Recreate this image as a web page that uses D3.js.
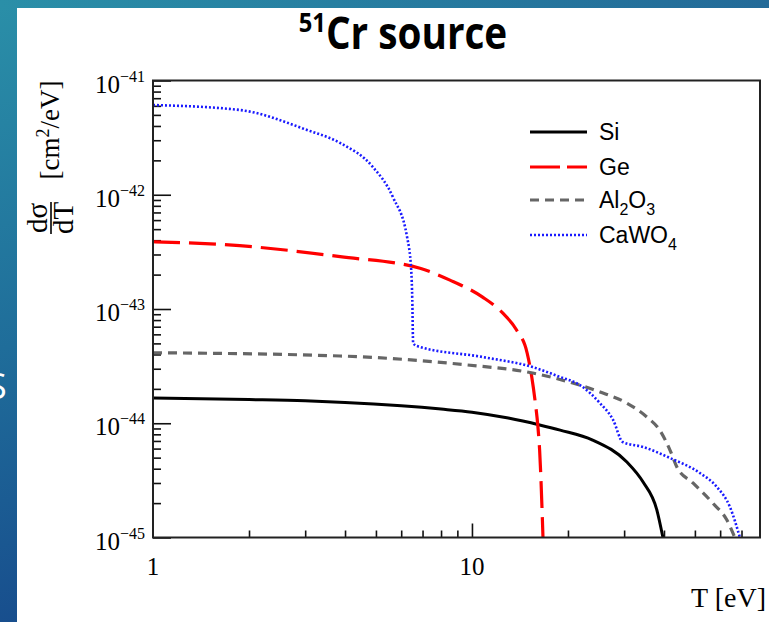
<!DOCTYPE html>
<html>
<head>
<meta charset="utf-8">
<script src="https://cdn.jsdelivr.net/npm/d3@7"></script>
<style>
  body { margin: 0; background: #fff; }
  svg { display: block; }
</style>
</head>
<body>
<div id="chart"></div>
<script>
// ---- data (T in eV, dsigma/dT in cm^2/eV) ----
var siT  = [1, 2, 3, 4, 6, 8, 10, 13, 16.3, 18.9, 23.9, 30.6, 34.4, 38.0, 39.7];
var siXS = [1.66e-44, 1.61e-44, 1.57e-44, 1.52e-44, 1.42e-44, 1.33e-44, 1.25e-44, 1.11e-44, 9.66e-45,
            8.7e-45, 7.13e-45, 4.58e-45, 3.06e-45, 1.74e-45, 1.0e-45];

var geT  = [1, 1.87, 3.86, 6.87, 8.53, 10.8, 12.5, 13.8, 14.9, 15.4, 15.76, 16.1, 16.3, 16.7];
var geXS = [3.88e-43, 3.58e-43, 2.87e-43, 2.27e-43, 1.79e-43, 1.27e-43, 9.2e-44, 6.55e-44, 4.1e-44,
            2.54e-44, 1.6e-44, 9.3e-45, 5.8e-45, 1.0e-45];

var alT  = [1, 3.86, 7.53, 9.65, 15.5, 20.7, 25.2, 30.6, 35.4, 38.8, 41.8, 43.9, 49.3, 56.9, 63.0, 66.7];
var alXS = [4.14e-44, 3.88e-44, 3.46e-44, 3.24e-44, 2.75e-44, 2.25e-44, 1.88e-44, 1.50e-44, 1.13e-44,
            8.7e-45, 5.8e-45, 4.14e-45, 3.0e-45, 2.0e-45, 1.42e-45, 1.0e-45];

var cwT  = [1, 1.87, 3.04, 3.86, 4.89, 5.65, 6.26, 6.45, 6.5, 6.54, 6.72, 10.8, 15.5, 18.9, 21.8, 25.2,
            27.7, 29.7, 34.4, 41.8, 51.8, 58.6, 64.4, 69.2];
var cwXS = [6.1e-42, 5.52e-42, 3.69e-42, 2.84e-42, 1.75e-42, 9.55e-43, 4.27e-43, 2.19e-43, 1.2e-43, 5.04e-44,
            4.74e-44, 3.8e-44, 3.1e-44, 2.54e-44, 2.16e-44, 1.5e-44, 1.07e-44, 6.85e-45, 6.2e-45, 4.96e-45,
            3.67e-45, 2.77e-45, 1.85e-45, 1.0e-45];

var yTickExps = [-41, -42, -43, -44, -45];
var xTickLabels = [1, 10];

var svgWidth = 769;
var svgHeight = 622;

var margin = { top: 80.5, right: 9, bottom: 84.5, left: 153 };
var width = svgWidth - margin.left - margin.right;
var height = svgHeight - margin.top - margin.bottom;

var svg = d3.select("#chart")
  .append("svg")
  .attr("width", svgWidth)
  .attr("height", svgHeight);

// slide background behind the white panel
var defs = svg.append("defs");
var grad = defs.append("linearGradient")
  .attr("id", "slideBg")
  .attr("x1", "0").attr("y1", "0").attr("x2", "0.35").attr("y2", "1");
grad.append("stop").attr("offset", "0%").attr("stop-color", "#2a8fa8");
grad.append("stop").attr("offset", "50%").attr("stop-color", "#1f6d9a");
grad.append("stop").attr("offset", "100%").attr("stop-color", "#16468a");

var gradTop = defs.append("linearGradient")
  .attr("id", "slideTop")
  .attr("x1", "0").attr("y1", "0").attr("x2", "1").attr("y2", "0");
gradTop.append("stop").attr("offset", "0%").attr("stop-color", "#2a8fa8");
gradTop.append("stop").attr("offset", "100%").attr("stop-color", "#236a98");

svg.append("rect").attr("width", svgWidth).attr("height", svgHeight).attr("fill", "url(#slideBg)");
svg.append("rect").attr("width", svgWidth).attr("height", 10).attr("fill", "url(#slideTop)");

// bit of slide text peeking out on the left
svg.append("text")
  .attr("x", -13).attr("y", 399)
  .attr("font-family", "Open Sans, sans-serif")
  .attr("font-size", 36)
  .attr("fill", "#ffffff")
  .text("S");

svg.append("rect")
  .attr("x", 17).attr("y", 8)
  .attr("width", svgWidth - 17).attr("height", svgHeight - 8)
  .attr("fill", "#ffffff");

// title (condensed bold look)
var title = svg.append("text")
  .attr("transform", "translate(403, 49) scale(0.88, 1)")
  .attr("text-anchor", "middle")
  .attr("font-family", "Open Sans, sans-serif")
  .attr("font-weight", "bold")
  .attr("font-size", 44)
  .attr("fill", "#000");
title.append("tspan").attr("font-size", 27).attr("dy", -17).text("51");
title.append("tspan").attr("dy", 17).text("Cr source");

var chartGroup = svg.append("g")
  .attr("transform", `translate(${margin.left}, ${margin.top})`);

defs.append("clipPath").attr("id", "plotClip")
  .append("rect").attr("width", width).attr("height", height);

// scales
var xLogScale = d3.scaleLog().domain([1, 80]).range([0, width]);
var yLogScale = d3.scaleLog().domain([1e-45, 1e-41]).range([height, 0]);

// minor / major tick values
var xMinor = [];
[1, 10].forEach(function(dec) {
  for (var k = 2; k <= 9; k++) { if (dec * k < 80) xMinor.push(dec * k); }
});
var yMinor = [];
yTickExps.forEach(function(e) {
  if (e === -41) return;
  for (var k = 2; k <= 9; k++) yMinor.push(k * Math.pow(10, e));
});
var yMajor = yTickExps.map(function(e) { return Math.pow(10, e); });

function styleAxis(g) {
  g.select(".domain").remove();
  g.selectAll(".tick text").remove();
  g.selectAll(".tick line").attr("stroke", "#111").attr("stroke-width", 1.6);
}

chartGroup.append("g")
  .attr("transform", `translate(0, ${height})`)
  .call(d3.axisBottom(xLogScale).tickValues([10]).tickSize(-14))
  .call(styleAxis);
chartGroup.append("g")
  .attr("transform", `translate(0, ${height})`)
  .call(d3.axisBottom(xLogScale).tickValues(xMinor).tickSize(-7))
  .call(styleAxis);
chartGroup.append("g")
  .call(d3.axisLeft(yLogScale).tickValues(yMajor).tickSize(-18))
  .call(styleAxis);
chartGroup.append("g")
  .call(d3.axisLeft(yLogScale).tickValues(yMinor).tickSize(-8))
  .call(styleAxis);

// tick labels
var serif = "Liberation Serif, Times New Roman, serif";
yTickExps.forEach(function(e) {
  var t = chartGroup.append("text")
    .attr("x", -8)
    .attr("y", yLogScale(Math.pow(10, e)) + 12)
    .attr("text-anchor", "end")
    .attr("font-family", serif)
    .attr("font-size", 25)
    .attr("fill", "#000");
  t.append("tspan").text("10");
  t.append("tspan").attr("font-size", 16).attr("dy", -11).text("\u2212" + (-e));
});
xTickLabels.forEach(function(v) {
  chartGroup.append("text")
    .attr("x", xLogScale(v))
    .attr("y", height + 37)
    .attr("text-anchor", "middle")
    .attr("font-family", serif)
    .attr("font-size", 25)
    .attr("fill", "#000")
    .text(v);
});

// axis titles
svg.append("text")
  .attr("x", 766).attr("y", 607)
  .attr("text-anchor", "end")
  .attr("font-family", serif)
  .attr("font-size", 28)
  .attr("fill", "#000")
  .text("T [eV]");

var yLab = svg.append("g").attr("transform", "translate(50, 130) rotate(-90)");
var yUnit = yLab.append("text")
  .attr("x", 0).attr("y", 9)
  .attr("text-anchor", "middle")
  .attr("font-family", serif)
  .attr("font-size", 27)
  .attr("fill", "#000");
yUnit.append("tspan").text("[cm");
yUnit.append("tspan").attr("font-size", 18).attr("dy", -10).text("2");
yUnit.append("tspan").attr("dy", 10).text("/eV]");

var frac = svg.append("g").attr("transform", "translate(51, 218) rotate(-90)");
frac.append("text").attr("x", 0).attr("y", -4)
  .attr("text-anchor", "middle").attr("font-family", serif).attr("font-size", 29)
  .text("d\u03c3");
frac.append("line").attr("x1", -16).attr("x2", 16).attr("y1", 0).attr("y2", 0)
  .attr("stroke", "#000").attr("stroke-width", 1.6);
frac.append("text").attr("x", 0).attr("y", 22)
  .attr("text-anchor", "middle").attr("font-family", serif).attr("font-size", 29)
  .text("dT");

// curves
var series = [
  { name: "Si",    T: siT, v: siXS, color: "#000000", dash: null,   w: 3 },
  { name: "Ge",    T: geT, v: geXS, color: "#ff0000", dash: "27,9", w: 3.2 },
  { name: "Al2O3", T: alT, v: alXS, color: "#666666", dash: "9,6",  w: 3.2 },
  { name: "CaWO4", T: cwT, v: cwXS, color: "#1a1aff", dash: "2,2",  w: 2.6 }
];

var line = d3.line()
  .x(d => xLogScale(d[0]))
  .y(d => yLogScale(d[1]))
  .curve(d3.curveMonotoneX);

var curves = chartGroup.append("g").attr("clip-path", "url(#plotClip)");
series.forEach(function(s) {
  curves.append("path")
    .datum(s.T.map((t, i) => [t, s.v[i]]))
    .attr("fill", "none")
    .attr("stroke", s.color)
    .attr("stroke-width", s.w)
    .attr("stroke-dasharray", s.dash)
    .attr("d", line);
});

// frame
chartGroup.append("rect")
  .attr("width", width).attr("height", height)
  .attr("fill", "none")
  .attr("stroke", "#222")
  .attr("stroke-width", 2);

// legend
var sans = "Liberation Sans, Arial, sans-serif";
var legendY = [132, 167, 200, 235];
series.forEach(function(s, i) {
  var y = legendY[i];
  svg.append("line")
    .attr("x1", 530).attr("x2", 587).attr("y1", y).attr("y2", y)
    .attr("stroke", s.color)
    .attr("stroke-width", s.w)
    .attr("stroke-dasharray", s.name === "Ge" ? "30,7" : s.dash);
  var t = svg.append("text")
    .attr("x", 599).attr("y", y + 8)
    .attr("font-family", sans)
    .attr("font-size", 23)
    .attr("fill", "#000");
  if (s.name === "Al2O3") {
    t.append("tspan").text("Al");
    t.append("tspan").attr("font-size", 16).attr("dy", 7).text("2");
    t.append("tspan").attr("dy", -7).text("O");
    t.append("tspan").attr("font-size", 16).attr("dy", 7).text("3");
  } else if (s.name === "CaWO4") {
    t.append("tspan").text("CaWO");
    t.append("tspan").attr("font-size", 16).attr("dy", 7).text("4");
  } else {
    t.text(s.name);
  }
});
</script>
</body>
</html>
